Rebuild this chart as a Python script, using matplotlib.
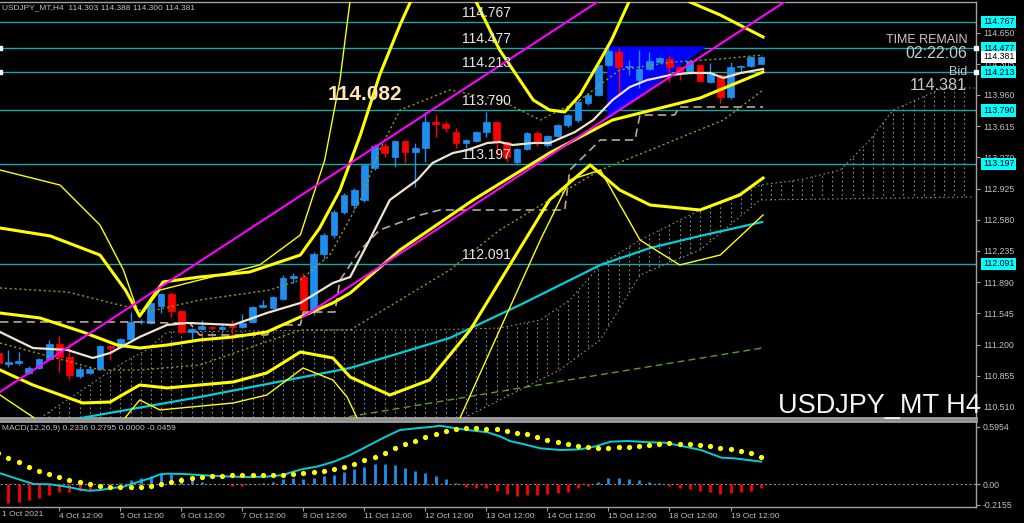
import matplotlib
matplotlib.use("Agg")
import matplotlib.pyplot as plt
from matplotlib.patches import Polygon, Rectangle
import matplotlib.transforms as mtransforms

plt.rcParams['font.family'] = ['Liberation Sans', 'DejaVu Sans']

# ---------------- data ----------------
symbol_header = "USDJPY_MT,H4  114.303 114.388 114.300 114.381"
macd_header = "MACD(12,26,9) 0.2336 0.2795 0.0000 -0.0459"

opens = [111.107, 110.990, 111.000, 110.886, 110.941, 111.041, 111.206, 111.063, 110.853, 110.886,
         110.930, 111.184, 111.173, 111.262, 111.450, 111.440, 111.627, 111.759, 111.571, 111.339,
         111.372, 111.394, 111.372, 111.400, 111.394, 111.450, 111.616, 111.605, 111.704, 111.936,
         111.947, 111.582, 112.202, 112.412, 112.666, 112.743, 112.799, 113.152, 113.396, 113.274,
         113.451, 113.329, 113.374, 113.661, 113.639, 113.550, 113.429, 113.451, 113.550, 113.661,
         113.440, 113.219, 113.363, 113.539, 113.407, 113.506, 113.628, 113.683, 113.871, 113.960,
         114.291, 114.435, 114.270, 114.125, 114.247, 114.324, 114.358, 114.269, 114.203, 114.291,
         114.103, 114.181, 113.937, 114.269, 114.280, 114.303]
highs = [111.130, 111.140, 111.120, 110.960, 111.050, 111.250, 111.295, 111.217, 110.960, 110.950,
         111.190, 111.190, 111.270, 111.560, 111.480, 111.670, 111.770, 111.781, 111.580, 111.380,
         111.470, 111.400, 111.420, 111.472, 111.540, 111.630, 111.693, 111.740, 111.970, 111.990,
         111.990, 112.220, 112.430, 112.690, 112.880, 112.930, 113.200, 113.420, 113.429, 113.460,
         113.460, 113.429, 113.772, 113.738, 113.670, 113.595, 113.470, 113.560, 113.772, 113.670,
         113.450, 113.370, 113.550, 113.560, 113.520, 113.640, 113.750, 113.900, 113.980, 114.300,
         114.479, 114.479, 114.347, 114.457, 114.435, 114.380, 114.402, 114.280, 114.350, 114.300,
         114.313, 114.190, 114.324, 114.290, 114.390, 114.388]
lows = [110.970, 110.952, 110.970, 110.870, 110.930, 111.030, 110.897, 110.808, 110.830, 110.870,
        110.920, 111.030, 111.160, 111.250, 111.430, 111.430, 111.549, 111.505, 111.330, 111.228,
        111.360, 111.370, 111.360, 111.251, 111.380, 111.440, 111.600, 111.590, 111.690, 111.880,
        111.527, 111.527, 112.150, 112.380, 112.640, 112.700, 112.780, 113.130, 113.274, 113.164,
        113.208, 112.942, 113.219, 113.495, 113.550, 113.374, 113.374, 113.440, 113.495, 113.296,
        113.219, 113.200, 113.350, 113.400, 113.390, 113.490, 113.610, 113.660, 113.850, 113.950,
        114.280, 113.982, 114.181, 114.037, 114.240, 114.310, 114.103, 114.125, 114.190, 114.100,
        114.090, 113.871, 113.915, 114.203, 114.270, 114.300]
closes = [110.996, 111.000, 111.020, 110.941, 111.041, 111.206, 111.063, 110.864, 110.930, 110.930,
          111.184, 111.162, 111.262, 111.450, 111.461, 111.660, 111.759, 111.571, 111.339, 111.372,
          111.405, 111.383, 111.394, 111.390, 111.439, 111.616, 111.638, 111.726, 111.936, 111.958,
          111.582, 112.202, 112.412, 112.666, 112.854, 112.909, 113.186, 113.396, 113.318, 113.451,
          113.329, 113.374, 113.661, 113.639, 113.595, 113.429, 113.462, 113.550, 113.661, 113.440,
          113.274, 113.363, 113.539, 113.429, 113.506, 113.628, 113.738, 113.882, 113.960, 114.291,
          114.446, 114.269, 114.280, 114.247, 114.336, 114.369, 114.269, 114.214, 114.336, 114.114,
          114.203, 113.937, 114.269, 114.280, 114.380, 114.381]

levels = [114.767, 114.477, 114.213, 113.790, 113.197, 112.091]
anchored_levels = [114.477, 114.213]
price_ticks = [114.650, 114.305, 113.960, 113.615, 113.270, 112.925, 112.580,
               112.235, 111.890, 111.545, 111.200, 110.855, 110.510]
bid_price = 114.381
highlight_label = "114.082"

date_first_label = "1 Oct 2021"
date_ticks = [6, 12, 18, 24, 30, 36, 42, 48, 54, 60, 66, 72]
date_labels = ["4 Oct 12:00", "5 Oct 12:00", "6 Oct 12:00", "7 Oct 12:00", "8 Oct 12:00",
               "11 Oct 12:00", "12 Oct 12:00", "13 Oct 12:00", "14 Oct 12:00",
               "15 Oct 12:00", "18 Oct 12:00", "19 Oct 12:00"]

# indicator lines (bar index, price)
ma_x = [0.17, 3.4, 6.8, 9.3, 11, 13.9, 16.6, 18.6, 23.1, 26.4, 29.7, 32.9, 34.6, 36.5, 38.5, 41.2,
        42.7, 44.7, 46.1, 48.1, 49.3, 50.6, 52.6, 54.2, 56.7, 58.5, 60.4, 62.1, 63.8, 66.1, 68, 70,
        71.3, 73, 75.2]
ma_y = [111.339, 111.162, 111.140, 111.052, 111.107, 111.284, 111.417, 111.439, 111.417, 111.549,
        111.660, 111.881, 111.947, 112.356, 112.799, 113.020, 113.208, 113.318, 113.351, 113.429,
        113.440, 113.407, 113.429, 113.429, 113.550, 113.683, 113.904, 114.048, 114.125, 114.181,
        114.203, 114.203, 114.148, 114.203, 114.247]

bbu2_x = [0.17, 5.1, 10, 12.5, 13.9, 16.2, 19.8, 24.7, 29.7, 31.6, 33.6, 35.6, 37.5, 39.5, 41.5,
          45.4, 46.9, 49.3, 52.6, 54.2, 55.7, 57.2, 59.2, 60.3, 62.1, 65.1, 68, 71, 75.2]
bbu2_y = [112.489, 112.401, 112.190, 111.803, 111.516, 111.892, 111.947, 112.002, 112.190, 112.489,
          112.909, 113.517, 114.181, 114.734, 115.231, 115.231, 115.010, 114.457, 113.904, 113.794,
          113.772, 113.960, 114.347, 114.568, 115.010, 115.231, 114.988, 114.844, 114.601]

mid_x = [0.17, 4.1, 8.3, 11.7, 13.9, 16.6, 19.8, 23.1, 26.4, 29.7, 32.9, 34.6, 39.5, 46.7, 54.2,
         60.4, 69, 75.2]
mid_y = [111.549, 111.494, 111.339, 111.195, 111.162, 111.195, 111.251, 111.284, 111.339, 111.505,
         111.660, 111.770, 112.246, 112.799, 113.318, 113.683, 113.926, 114.214]

bbl2_x = [0.17, 3.4, 8.3, 11, 13.9, 16.6, 19.8, 23.1, 26.4, 29.7, 32.9, 34.6, 38.5, 42.4, 46.4,
          50.3, 54.2, 58.2, 61.1, 64.1, 69, 72.9, 75.2]
bbl2_y = [110.919, 110.753, 110.554, 110.565, 110.753, 110.720, 110.753, 110.786, 110.886, 111.118,
          111.052, 110.841, 110.642, 110.808, 111.361, 112.080, 112.799, 113.186, 112.909, 112.743,
          112.688, 112.854, 113.042]

bbl3_x = [0.17, 3.4, 6.07, 11, 12.3, 13.9, 15.9, 23.1, 26.4, 29.96, 32.9, 34.3, 35.6, 41.5, 45.4,
          49.3, 53.3, 56.2, 59.2, 63.1, 67, 71, 75.2]
bbl3_y = [110.642, 110.399, 110.145, 110.145, 110.366, 110.587, 110.477, 110.554, 110.642, 110.941,
          110.808, 110.620, 110.311, 110.145, 110.388, 111.361, 112.356, 113.020, 113.130, 112.356,
          112.080, 112.191, 112.633]

bbu3_x = [0.17, 6.07, 10, 12.3, 13.9, 15.9, 19.8, 25.7, 29.7, 32.1, 33.6, 34.6, 35.6]
bbu3_y = [113.130, 112.964, 112.522, 112.025, 111.505, 111.803, 111.914, 112.080, 112.412, 113.241,
          114.125, 115.010, 115.452]

bbu1_x = [0.17, 6.8, 12.7, 14.6, 19.8, 26.7, 29.7, 32.6, 35.6, 37.5, 39.5, 44.4, 49.3, 53.3, 57.2,
          61.1, 66.3, 71, 75.2]
bbu1_y = [111.826, 111.781, 111.616, 111.560, 111.693, 111.803, 111.914, 112.190, 112.799, 113.351,
          113.794, 114.015, 113.904, 113.683, 113.904, 114.236, 114.324, 114.358, 114.402]

bbl1_x = [0.17, 10, 13.9, 19.8, 29.7, 34.6, 39.5, 44.4, 49.3, 54.2, 59.2, 64.1, 71.3, 75.2]
bbl1_y = [111.217, 110.919, 110.919, 110.974, 111.361, 111.361, 111.693, 112.025, 112.467, 112.799,
          113.130, 113.351, 113.683, 114.015]

kijun_x = [0.17, 13.9, 16.6, 18.8, 19.8, 26.4, 27.7, 29.7, 30, 33.1, 33.6, 35.6, 37.5, 41.5, 43.4,
           55.7, 56.2, 59.2, 62.6, 63.1, 66.5, 67, 75.2]
kijun_y = [111.450, 111.450, 111.439, 111.439, 111.306, 111.306, 111.417, 111.417, 111.560, 111.560,
           111.914, 112.246, 112.467, 112.633, 112.688, 112.688, 113.130, 113.462, 113.462, 113.738,
           113.738, 113.827, 113.827]

cloud_top_x = [4.1, 9.7, 12.7, 14.6, 16.6, 32.9, 42.4, 49.3, 53.3, 56.2, 59.2, 63.1, 69, 74.9,
               78.8, 82.8, 85.7, 88, 92.9, 96.0]
cloud_top_y = [110.388, 110.808, 111.030, 111.140, 111.339, 111.361, 111.361, 111.383, 111.472,
               111.693, 112.080, 112.356, 112.688, 112.965, 113.020, 113.130, 113.462, 113.794,
               114.037, 114.037]
cloud_bot_x = [4.1, 32.9, 44.4, 51.3, 55.2, 59.2, 63.1, 69, 74.9, 96.0]
cloud_bot_y = [110.145, 110.145, 110.311, 110.698, 110.919, 111.251, 111.969, 112.246, 112.799,
               112.832]

sma_cyan_x = [7.05, 19.8, 34.6, 44.4, 51.3, 59.2, 64.1, 69, 75.1]
sma_cyan_y = [110.366, 110.620, 110.941, 111.273, 111.638, 112.080, 112.268, 112.401, 112.555]

sma_green_x = [28, 54, 75.1]
sma_green_y = [110.28, 110.77, 111.162]

trend_upper_x = [0.0, 59.2]
trend_upper_y = [110.665, 115.010]
trend_lower_x = [29.96, 77.6]
trend_lower_y = [111.505, 115.010]

triangle_x = [59.95, 69.5, 59.95]
triangle_y = [114.490, 114.490, 113.705]

macd_hist = [-0.210, -0.202, -0.185, -0.167, -0.143, -0.115, -0.087, -0.087, -0.073, -0.063,
             -0.038, -0.010, 0.007, 0.042, 0.066, 0.087, 0.101, 0.101, 0.070, 0.042,
             0.024, 0.005, -0.005, -0.021, -0.021, 0.000, 0.014, 0.024, 0.049, 0.066,
             0.049, 0.066, 0.084, 0.094, 0.122, 0.157, 0.181, 0.206, 0.206, 0.199,
             0.170, 0.136, 0.111, 0.087, 0.052, 0.014, -0.028, -0.038, -0.045, -0.073,
             -0.104, -0.122, -0.115, -0.115, -0.108, -0.098, -0.080, -0.045, -0.017, 0.024,
             0.059, 0.066, 0.052, 0.038, 0.024, 0.007, -0.017, -0.038, -0.052, -0.073,
             -0.087, -0.104, -0.098, -0.087, -0.073, -0.0459]
macd_signal = [0.320, 0.275, 0.226, 0.181, 0.139, 0.104, 0.073, 0.042, 0.017, 0.000,
               -0.017, -0.028, -0.035, -0.028, -0.028, -0.021, -0.003, 0.024, 0.042, 0.059,
               0.070, 0.080, 0.087, 0.094, 0.094, 0.094, 0.090, 0.090, 0.094, 0.108,
               0.111, 0.122, 0.139, 0.160, 0.181, 0.212, 0.247, 0.286, 0.328, 0.373,
               0.415, 0.453, 0.491, 0.526, 0.557, 0.571, 0.582, 0.582, 0.575, 0.571,
               0.557, 0.537, 0.519, 0.491, 0.463, 0.442, 0.418, 0.397, 0.383, 0.380,
               0.380, 0.387, 0.390, 0.401, 0.411, 0.418, 0.425, 0.421, 0.418, 0.411,
               0.397, 0.380, 0.366, 0.348, 0.328, 0.2795]
macd_line_x = [0.17, 3.44, 5.08, 6.72, 8.36, 9.0, 10.0, 11.0, 12.3, 13.3, 14.9, 15.9, 16.6, 18.2,
               19.8, 21.5, 23.1, 24.7, 26.4, 28.0, 29.0, 30.0, 31.3, 33.0, 34.6, 36.2, 37.9, 39.5,
               41.1, 42.8, 43.4, 44.4, 46.1, 48.1, 49.4, 50.3, 51.3, 53.3, 55.3, 57.2, 58.6, 60.2,
               61.9, 64.2, 65.5, 67.5, 69.1, 71.1, 72.4, 75.0]
macd_line_y = [0.112, 0.0, -0.003, -0.028, -0.063, -0.070, -0.063, -0.045, -0.028, 0.007, 0.059,
               0.101, 0.108, 0.105, 0.094, 0.084, 0.077, 0.073, 0.077, 0.094, 0.129, 0.157, 0.181,
               0.233, 0.303, 0.390, 0.484, 0.564, 0.582, 0.599, 0.609, 0.592, 0.564, 0.540, 0.495,
               0.449, 0.425, 0.373, 0.355, 0.362, 0.390, 0.442, 0.449, 0.435, 0.432, 0.390, 0.355,
               0.275, 0.268, 0.2336]
macd_ticks = [0.5954, 0.0, -0.2155]
macd_tick_labels = ["0.5954", "0.00", "-0.2155"]

# ---------------- figure ----------------
W, H = 1024, 523
fig = plt.figure(figsize=(W / 100, H / 100), dpi=100, facecolor='black')


def rect(x0, y0, x1, y1):
    return [x0 / W, 1 - y1 / H, (x1 - x0) / W, (y1 - y0) / H]


ax = fig.add_axes(rect(0, 2, 976, 418), facecolor='black')
axm = fig.add_axes(rect(0, 421, 976, 507), facecolor='black')

XMIN, XMAX = 0.167, 96.14
for a in (ax, axm):
    a.set_xlim(XMIN, XMAX)
    for s in a.spines.values():
        s.set_color('#a0a0a0')
        s.set_linewidth(1)
    a.spines['left'].set_visible(False)
ax.spines['bottom'].set_linewidth(2)
axm.spines['top'].set_linewidth(2)
ax.set_ylim(110.388, 114.988)
axm.set_ylim(-0.240, 0.658)

GRAY = '#c0c0c0'
UP = '#1e8ff0'
DN = '#ff0000'
YEL = '#ffff00'
OLIVE = '#9a9a10'

# cloud (dotted vertical hatching clipped to the cloud polygon)
cloud_poly = Polygon(list(zip(cloud_top_x, cloud_top_y)) + list(zip(cloud_bot_x[::-1], cloud_bot_y[::-1])),
                     closed=True, facecolor='none', edgecolor='none')
ax.add_patch(cloud_poly)
vl = ax.vlines(range(0, 97), 110.0, 115.5, colors='#8a8a8a', linestyles=(0, (1.5, 2.5)), lw=0.8, zorder=1)
vl.set_clip_path(cloud_poly)
ax.plot(cloud_top_x, cloud_top_y, color='#8a8a8a', ls=(0, (1.5, 2.5)), lw=0.8, zorder=1)
ax.plot(cloud_bot_x, cloud_bot_y, color='#8a8a8a', ls=(0, (1.5, 2.5)), lw=0.8, zorder=1)

# level lines
for lv in levels:
    ax.axhline(lv, color='#14a8a8', lw=1, zorder=2)
for lv in anchored_levels:
    ax.plot([XMIN, XMAX], [lv, lv], ls='none', marker='s', ms=2.5, color='white', clip_on=False, zorder=9)

# triangle
ax.add_patch(Polygon(list(zip(triangle_x, triangle_y)), closed=True, facecolor='#0000ff',
                     edgecolor='#0000ff', zorder=3))

# candles
for k in range(len(opens)):
    o, h, l, c = opens[k], highs[k], lows[k], closes[k]
    col = UP if c >= o else DN
    ax.vlines(k, l, h, color=col, lw=1, zorder=4)
    lo, hi = min(o, c), max(o, c)
    ax.add_patch(Rectangle((k - 0.33, lo), 0.66, max(hi - lo, 0.012), facecolor=col, edgecolor=col,
                           lw=0.5, zorder=4))

# indicator lines
ax.plot(sma_green_x, sma_green_y, color='#5f9a2a', ls=(0, (5, 3)), lw=1, zorder=5)
ax.plot(sma_cyan_x, sma_cyan_y, color='#00d0d8', lw=1.6, zorder=5)
ax.plot(kijun_x, kijun_y, color='#b8a898', ls=(0, (5, 3)), lw=1.2, zorder=5)
ax.plot(bbu1_x, bbu1_y, color=OLIVE, ls=(0, (1.5, 2)), lw=1, zorder=5)
ax.plot(bbl1_x, bbl1_y, color=OLIVE, ls=(0, (1.5, 2)), lw=1, zorder=5)
ax.plot(bbu3_x, bbu3_y, color=YEL, lw=1, zorder=5)
ax.plot(bbl3_x, bbl3_y, color=YEL, lw=1, zorder=5)
ax.plot(bbu2_x, bbu2_y, color=YEL, lw=2.2, zorder=5)
ax.plot(bbl2_x, bbl2_y, color=YEL, lw=2.2, zorder=5)
ax.plot(mid_x, mid_y, color=YEL, lw=2.2, zorder=5)
ax.plot(ma_x, ma_y, color='#efe4d0', lw=1.6, zorder=6)
ax.plot(trend_upper_x, trend_upper_y, color='#ff00ff', lw=1.5, zorder=6)
ax.plot(trend_lower_x, trend_lower_y, color='#ff00ff', lw=1.5, zorder=6)

# level texts in chart
for lv in levels:
    ax.annotate(f"{lv:.3f}", xy=(45.6, lv), xytext=(0, 1.5), textcoords='offset points',
                color='#e6e6e6', fontsize=10, va='bottom', ha='left', zorder=8)
ax.text(32.4, 113.960, highlight_label, color='#ffe4b5', fontsize=15, fontweight='bold',
        va='center', ha='left', zorder=8)

# right price axis
ax.yaxis.tick_right()
ax.set_yticks(price_ticks)
ax.set_yticklabels([f"{v:.3f}" for v in price_ticks])
ax.tick_params(axis='y', colors='#a0a0a0', labelcolor=GRAY, labelsize=6.3, length=3, pad=2)
ax.set_xticks([])
trans = mtransforms.blended_transform_factory(ax.transAxes, ax.transData)
for lv in levels:
    ax.text(1.0 + 7 / 976, lv, f"{lv:.3f}", transform=trans, ha='left', va='center', fontsize=6.3,
            color='black', clip_on=False, zorder=9,
            bbox=dict(boxstyle='square,pad=0.2', fc='#00ffff', ec='none'))
ax.text(1.0 + 7 / 976, bid_price, f"{bid_price:.3f}", transform=trans, ha='left', va='center',
        fontsize=6.3, color='black', clip_on=False, zorder=9,
        bbox=dict(boxstyle='square,pad=0.2', fc='#ffffff', ec='none'))

# MACD panel
hist_cols = [UP if v >= 0 else DN for v in macd_hist]
axm.vlines(range(len(macd_hist)), 0, macd_hist, colors=hist_cols, lw=2, zorder=3)
axm.axhline(0, color='#909090', ls=(0, (2, 2)), lw=0.8, zorder=2)
axm.plot(macd_line_x, macd_line_y, color='#00d0d8', lw=1.4, zorder=4)
axm.scatter(range(len(macd_signal)), macd_signal, s=14, color='#ffff00', zorder=5, linewidths=0)
axm.yaxis.tick_right()
axm.set_yticks(macd_ticks)
axm.set_yticklabels(macd_tick_labels)
axm.tick_params(axis='y', colors='#a0a0a0', labelcolor=GRAY, labelsize=6.3, length=3, pad=2)
axm.set_xticks(date_ticks)
axm.set_xticklabels(date_labels, ha='left')
axm.tick_params(axis='x', colors='#a0a0a0', labelcolor=GRAY, labelsize=6, length=3, pad=1.5)

# texts
fig.text(2 / W, 1 - 8 / H, symbol_header, color=GRAY, fontsize=6, va='center', ha='left')
fig.text(2 / W, 1 - 428 / H, macd_header, color=GRAY, fontsize=6, va='center', ha='left')
fig.text(2 / W, 1 - 515 / H, date_first_label, color=GRAY, fontsize=6, va='center', ha='left')
fig.text(967 / W, 1 - 40 / H, "TIME REMAIN", color='#c8c8c8', fontsize=9, va='center', ha='right')
fig.text(967 / W, 1 - 54 / H, "02:22:06", color='#c8c8c8', fontsize=11.5, va='center', ha='right')
fig.text(967 / W, 1 - 72 / H, "Bid", color='#c8c8c8', fontsize=9, va='center', ha='right')
fig.text(967 / W, 1 - 86 / H, "114.381", color='#c8c8c8', fontsize=11.5, va='center', ha='right')
fig.text(778 / W, 1 - 413 / H, "USDJPY_MT H4", color='#f4f4f4', fontsize=19.5, va='baseline', ha='left')

fig.savefig("out.png", dpi=100, facecolor='black')
